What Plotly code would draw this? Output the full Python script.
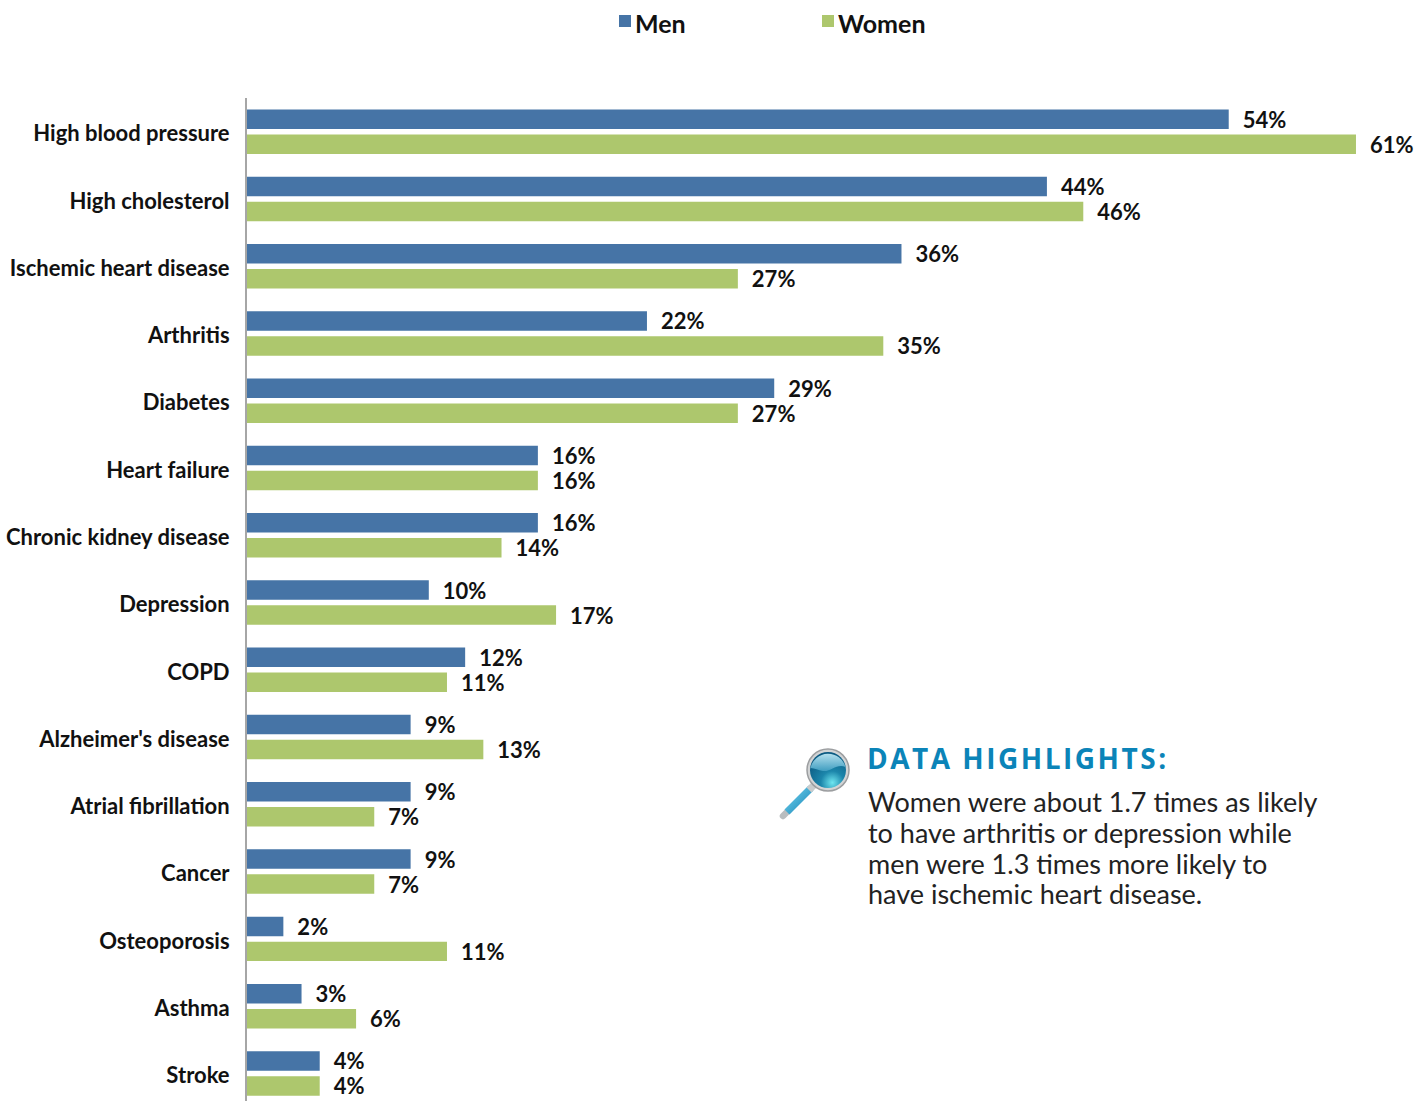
import base64
import plotly.graph_objects as go

categories = ["High blood pressure", "High cholesterol", "Ischemic heart disease", "Arthritis",
              "Diabetes", "Heart failure", "Chronic kidney disease", "Depression", "COPD",
              "Alzheimer's disease", "Atrial fibrillation", "Cancer", "Osteoporosis", "Asthma", "Stroke"]
men = [54, 44, 36, 22, 29, 16, 16, 10, 12, 9, 9, 9, 2, 3, 4]
women = [61, 46, 27, 35, 27, 16, 14, 17, 11, 13, 7, 7, 11, 6, 4]
series_names = ["Men", "Women"]
highlight_title = "DATA HIGHLIGHTS:"
highlight_lines = ["Women were about 1.7 times as likely",
                   "to have arthritis or depression while",
                   "men were 1.3 times more likely to",
                   "have ischemic heart disease."]

W, H = 1414, 1101
L, T = 247, 98
FONT = "Lato"
BLUE, GREEN = "#4674a6", "#adc76d"


def px(x):
    return (x - L) / (W - L)


def py(y):
    return 1 - (y - T) / (H - T)


fig = go.Figure()
for name, vals, col in zip(series_names, [men, women], [BLUE, GREEN]):
    fig.add_trace(go.Bar(
        name=name, y=categories, x=vals, orientation="h",
        marker=dict(color=col, line_width=0),
        text=vals, texttemplate="\u2002%{text}%", textposition="outside",
        constraintext="none",
        textfont=dict(family=FONT, size=22, color="#111111", weight=700),
        cliponaxis=False, showlegend=False,
    ))

annotations = []
shapes = []
for name, sx, tx in [("Men", 619, 633), ("Women", 822, 836)]:
    shapes.append(dict(type="rect", xref="paper", yref="paper", x0=px(sx), x1=px(sx + 12),
                       y0=py(27), y1=py(15), line_width=0,
                       fillcolor=BLUE if name == "Men" else GREEN))
    annotations.append(dict(text=name, xref="paper", yref="paper", x=px(tx), y=py(23.5),
                            xanchor="left", yanchor="middle", showarrow=False,
                            font=dict(family=FONT, size=25, color="#111111", weight=700)))

annotations.append(dict(text=highlight_title, xref="paper", yref="paper", x=px(885), y=py(758),
                        xanchor="left", yanchor="middle", showarrow=False,
                        font=dict(family="Open Sans", size=28, color="#0b84b8", weight=700)))
for line, yy in zip(highlight_lines, [801, 832, 863, 893]):
    annotations.append(dict(text=line, xref="paper", yref="paper", x=px(866), y=py(yy),
                            xanchor="left", yanchor="middle", showarrow=False,
                            font=dict(family=FONT, size=27, color="#222222")))

svg = """<svg xmlns='http://www.w3.org/2000/svg' width='72' height='72' viewBox='0 0 72 72'>
<defs>
<radialGradient id='g' cx='0.62' cy='0.85' r='0.8'><stop offset='0' stop-color='#6fe6f0'/><stop offset='0.4' stop-color='#1c86ab'/><stop offset='1' stop-color='#0b5a82'/></radialGradient>
<linearGradient id='h' x1='0' y1='0' x2='0' y2='1'><stop offset='0' stop-color='#b4e0ee'/><stop offset='1' stop-color='#3f9dc0'/></linearGradient>
<linearGradient id='s' x1='0' y1='0' x2='1' y2='1'><stop offset='0' stop-color='#6fd2ee'/><stop offset='1' stop-color='#1a86b8'/></linearGradient>
</defs>
<line x1='4' y1='68' x2='10' y2='62' stroke='#b9bdbf' stroke-width='6.5' stroke-linecap='round'/>
<line x1='8' y1='64' x2='32' y2='40' stroke='url(#s)' stroke-width='7'/>
<line x1='30' y1='42' x2='36' y2='36' stroke='#c8cbcc' stroke-width='7'/>
<circle cx='49' cy='22' r='21' fill='#d2d4d5' stroke='#9c9ea0' stroke-width='1.5'/>
<circle cx='49' cy='22' r='18' fill='url(#g)'/>
<path d='M31.5 20 A18 18 0 0 1 66.5 19 C58 15 52 24 44 23 C39 22.5 36 20 31.5 20 Z' fill='url(#h)'/>
</svg>"""
uri = "data:image/svg+xml;base64," + base64.b64encode(svg.encode()).decode()

fig.update_layout(
    width=W, height=H, margin=dict(l=L, r=0, t=T, b=0, pad=0),
    paper_bgcolor="white", plot_bgcolor="white",
    barmode="group", bargap=0.257, bargroupgap=0.22,
    showlegend=False, annotations=annotations, shapes=shapes,
    images=[dict(source=uri, xref="paper", yref="paper", x=px(779), y=py(748),
                 sizex=72 / (W - L), sizey=72 / (H - T), xanchor="left", yanchor="top",
                 sizing="stretch", layer="above")],
    xaxis=dict(range=[0, (W - L) / 18.18], visible=False, showgrid=False, zeroline=False),
    yaxis=dict(type="category", categoryorder="array", categoryarray=categories,
               range=[14.41, -0.5], showgrid=False, zeroline=False,
               showline=True, linecolor="#a6a6a6", linewidth=2,
               ticks="outside", ticklen=11, tickcolor="rgba(0,0,0,0)",
               ticklabelshift=-2,
               tickfont=dict(family=FONT, size=22, color="#111111", weight=700)),
)
post = """document.body.style.margin='0';document.body.style.overflow='hidden';
document.querySelectorAll('.annotation-text').forEach(function(t){
  if(t.textContent==='DATA HIGHLIGHTS:'){t.style.letterSpacing='2.5px';}
});"""
fig.write_html("out.html", config={"displayModeBar": False}, post_script=post)
